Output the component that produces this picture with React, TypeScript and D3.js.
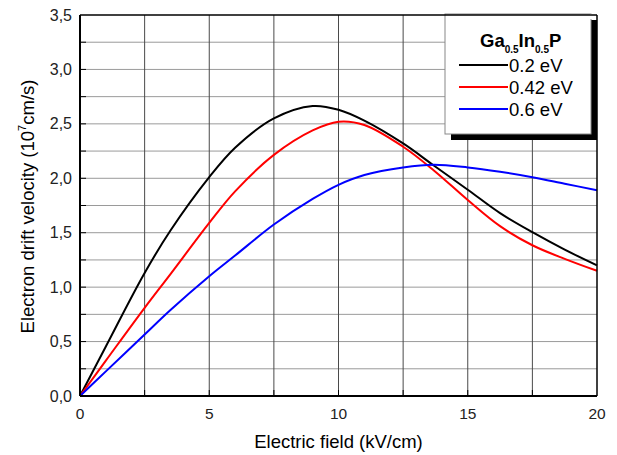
import * as d3 from "d3";

const fieldKVcm = [0, 1, 2.5, 3.5, 5, 6, 7.5, 9, 10, 11, 12.5, 13.7, 15, 16.25, 17.5, 18.75, 20];
const v02eV = [0, 0.455, 1.13, 1.52, 2.01, 2.28, 2.55, 2.664, 2.63, 2.53, 2.32, 2.115, 1.895, 1.68, 1.505, 1.345, 1.2];
const v042eV = [0, 0.325, 0.81, 1.12, 1.59, 1.88, 2.215, 2.44, 2.52, 2.49, 2.29, 2.07, 1.8, 1.56, 1.385, 1.26, 1.15];
const v06eV = [0, 0.226, 0.565, 0.79, 1.1, 1.29, 1.575, 1.81, 1.94, 2.03, 2.1, 2.125, 2.1, 2.06, 2.01, 1.95, 1.89];

const seriesNames = ["0.2 eV", "0.42 eV", "0.6 eV"];
const seriesColors = ["#000000", "#ff0000", "#0000ff"];
const xTicks = [0, 5, 10, 15, 20];
const yTicks = [0, 0.5, 1, 1.5, 2, 2.5, 3, 3.5];

const W = 617;
const H = 455;
const margin = { top: 15, right: 20, bottom: 59, left: 80 };
const font = "'Liberation Sans', Arial, sans-serif";

export default function App() {
  const iw = W - margin.left - margin.right;
  const ih = H - margin.top - margin.bottom;

  const x = d3.scaleLinear().domain([0, 20]).range([0, iw]);
  const y = d3.scaleLinear().domain([0, 3.5]).range([ih, 0]);

  const series = [v02eV, v042eV, v06eV];
  const line = d3
    .line<number>()
    .x((_, i) => x(fieldKVcm[i]))
    .y((d) => y(d))
    .curve(d3.curveCatmullRom.alpha(0.5));

  const vGrid = d3.range(2.5, 20, 2.5);
  const hGrid = d3.range(0.25, 3.5, 0.25);

  // legend box in plot coords
  const lg = { x: 365, y: -1, w: 146, h: 120 };

  return (
    <svg width={W} height={H} style={{ position: "absolute", left: 0, top: 0 }} fontFamily={font}>
      <rect width={W} height={H} fill="white" />
      <g transform={`translate(${margin.left},${margin.top})`}>
        {hGrid.map((v) => (
          <line key={`h${v}`} x1={0} x2={iw} y1={y(v)} y2={y(v)} stroke="#9a9a9a" strokeWidth={1} />
        ))}
        {vGrid.map((v) => (
          <line key={`v${v}`} x1={x(v)} x2={x(v)} y1={0} y2={ih} stroke="#4a4a4a" strokeWidth={1} />
        ))}
        {hGrid.map((v) => (
          <line key={`ht${v}`} x1={0} x2={6} y1={y(v)} y2={y(v)} stroke="#000" strokeWidth={1} />
        ))}
        {vGrid.map((v) => (
          <line key={`vt${v}`} x1={x(v)} x2={x(v)} y1={ih} y2={ih - 6} stroke="#000" strokeWidth={1} />
        ))}

        {series.map((s, i) => (
          <path key={seriesNames[i]} d={line(s) || undefined} fill="none" stroke={seriesColors[i]} strokeWidth={2} />
        ))}

        {/* legend */}
        <rect x={lg.x + 6} y={lg.y + 6} width={lg.w} height={lg.h} fill="#000" />
        <rect x={lg.x} y={lg.y} width={lg.w} height={lg.h} fill="#fff" stroke="#888" strokeWidth={1} />
        <rect x={lg.x + lg.w - 1} y={lg.y} width={3} height={5} fill="#fff" />
        <text x={lg.x + 35} y={32} fontSize={18.5} fontWeight="bold" fill="#000">
          Ga
          <tspan fontSize={10} dy={6}>0.5</tspan>
          <tspan dy={-6}>In</tspan>
          <tspan fontSize={10} dy={6}>0.5</tspan>
          <tspan dy={-6}>P</tspan>
        </text>
        {seriesNames.map((n, i) => (
          <g key={n} transform={`translate(${lg.x + 14},${50 + i * 22})`}>
            <line x1={0} x2={49} y1={0} y2={0} stroke={seriesColors[i]} strokeWidth={2} />
            <text x={50} y={6.5} fontSize={18.5} fill="#000">
              {n}
            </text>
          </g>
        ))}

        {/* frame */}
        <line x1={0} x2={iw} y1={0} y2={0} stroke="#000" strokeWidth={1.5} />
        <line x1={iw} x2={iw} y1={0} y2={ih} stroke="#000" strokeWidth={1.5} />
        <line x1={0} x2={0} y1={0} y2={ih} stroke="#000" strokeWidth={2} />
        <line x1={0} x2={iw} y1={ih} y2={ih} stroke="#000" strokeWidth={2} />

        {yTicks.map((v) => (
          <text key={`yl${v}`} x={-8} y={y(v) + 5.5} fontSize={16} textAnchor="end" fill="#222">
            {d3.format(".1f")(v).replace(".", ",")}
          </text>
        ))}
        {xTicks.map((v) => (
          <text key={`xl${v}`} x={x(v)} y={ih + 23} fontSize={15.5} textAnchor="middle" fill="#222">
            {v}
          </text>
        ))}

        <text x={iw / 2} y={ih + 52} fontSize={18.5} textAnchor="middle" fill="#000">
          Electric field (kV/cm)
        </text>
        <text
          transform={`translate(${-46},${ih / 2 + 1}) rotate(-90)`}
          fontSize={18.5}
          textAnchor="middle"
          fill="#000"
        >
          Electron drift velocity (10
          <tspan fontSize={11} dy={-8}>7</tspan>
          <tspan dy={8}>cm/s)</tspan>
        </text>
      </g>
    </svg>
  );
}
